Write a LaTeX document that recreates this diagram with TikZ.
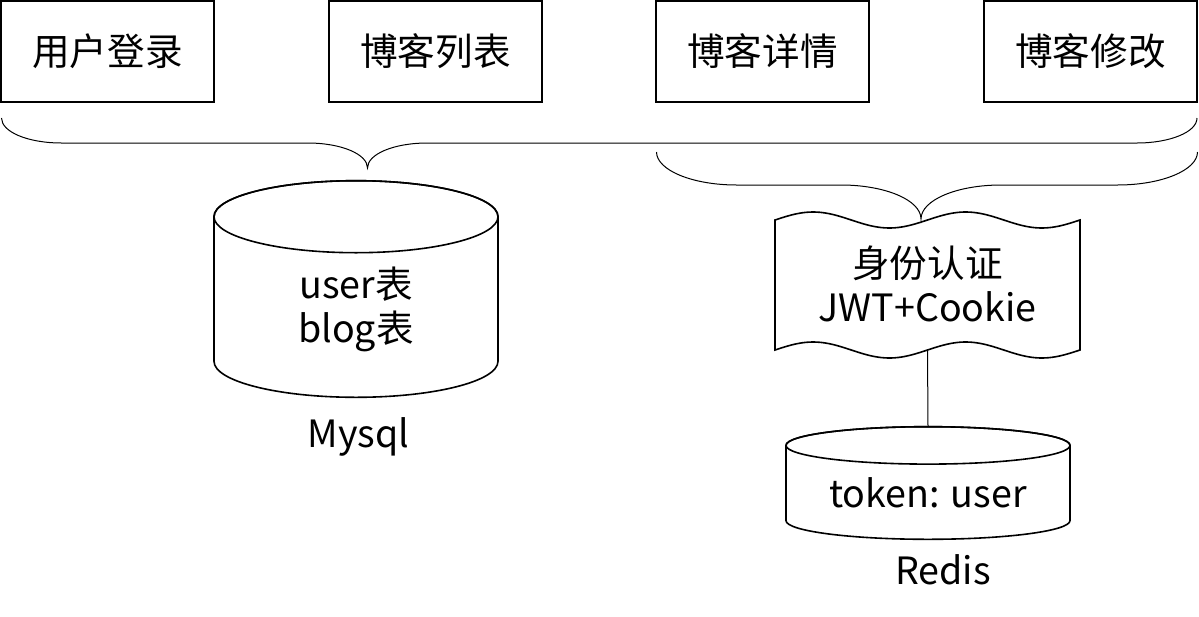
\documentclass[tikz,border=0pt]{standalone}
\usepackage{fontspec}
\setmainfont{Noto Sans CJK SC}
\begin{document}
\begin{tikzpicture}[x=1pt,y=-1pt,
  pagebox/.style={draw,line width=1.6pt,minimum width=213pt,minimum height=101pt,inner sep=0pt,font=\fontsize{37.6}{44}\selectfont},
  txt/.style={inner sep=0pt,align=center,font=\fontsize{37.6}{44}\selectfont},
  shapeline/.style={line width=1.6pt},
  braceline/.style={line width=1pt},
  conn/.style={line width=1pt}]
\useasboundingbox (0,0) rectangle (1199,616);
% page boxes
\node[pagebox] (login) at (107.5,51.5) {用户登录};
\node[pagebox] (list) at (435.5,51.5) {博客列表};
\node[pagebox] (detail) at (762.5,51.5) {博客详情};
\node[pagebox] (edit) at (1090.5,51.5) {博客修改};
% brace 1
\coordinate (b1l) at (1.5,118);
\coordinate (b1r) at (1197,118);
\coordinate (b1t) at (367.5,168);
\draw[braceline] (b1l) .. controls (1.5,132) and (28,143) .. (61.5,143) -- (307.5,143)
  .. controls (341,143) and (367.5,154) .. (b1t)
  .. controls (367.5,154) and (394,143) .. (427.5,143) -- (1137,143)
  .. controls (1170,143) and (1197,132) .. (b1r);
% brace 2
\coordinate (b2l) at (656.5,152);
\coordinate (b2r) at (1197.5,152);
\coordinate (b2t) at (921,219);
\draw[braceline] (b2l) .. controls (656.5,170) and (692,185) .. (736.5,185) -- (841,185)
  .. controls (885,185) and (921,200) .. (b2t)
  .. controls (921,200) and (957,185) .. (1001,185) -- (1117.5,185)
  .. controls (1162,185) and (1197.5,170) .. (b2r);
% mysql cylinder
\draw[shapeline] (214,216.7) -- (214,361.3) arc[start angle=180,end angle=360,x radius=142pt,y radius=36pt]
  -- (498,216.7) arc[start angle=0,end angle=180,x radius=142pt,y radius=36pt] -- cycle;
\draw[shapeline] (356,216.7) ellipse[x radius=142pt,y radius=36pt];
\node[txt] (mysqltbl) at (356,309) {user表\\blog表};
\node[txt] (mysql) at (358.5,437) {Mysql};
% auth tape
\node[minimum width=305pt,minimum height=130pt,inner sep=0pt] (tape) at (927.5,285) {};
\draw[shapeline] plot[domain=0:305,samples=90] ({775+\x},{220-8*sin(\x*2.36066)})
  -- plot[domain=305:0,samples=90] ({775+\x},{350-8*sin(\x*2.36066)}) -- cycle;
\node[txt] (auth) at (927.5,283.5) {身份认证\\JWT+Cookie};
% redis cylinder
\coordinate (redistop) at (928,426.7);
\draw[shapeline] (786,445.4) -- (786,520.6) arc[start angle=180,end angle=360,x radius=142pt,y radius=18.7pt]
  -- (1070,445.4) arc[start angle=0,end angle=180,x radius=142pt,y radius=18.7pt] -- cycle;
\draw[shapeline] (928,445.4) ellipse[x radius=142pt,y radius=18.7pt];
\node[txt] (token) at (928,493) {token: user};
\node[txt] (redis) at (943,570) {Redis};
% connector
\draw[conn] (tape.south) -- (redistop);
\end{tikzpicture}
\end{document}
